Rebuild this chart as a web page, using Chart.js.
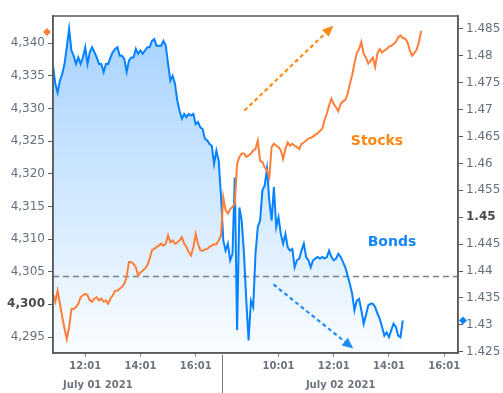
<!DOCTYPE html>
<html><head><meta charset="utf-8">
<script src="https://cdn.jsdelivr.net/npm/chart.js@4.4.1/dist/chart.umd.min.js"></script>
<style>html,body{margin:0;padding:0;background:#fff}#wrap{width:503px;height:393px;position:relative}</style>
</head><body><div id="wrap"><canvas id="c" width="503" height="393"></canvas></div>
<script>
// ---------- data ----------
const stepMinutes = 5;
const dayNames = ['July 01 2021', 'July 02 2021'];
const dayOpen  = ['08:01', '08:01'];   // session open (date label is centred on the session)
const dayFirst = ['10:51', '08:01'];   // first plotted time
const dayLast  = ['16:56', '16:31'];   // last slot on the axis
const tickDays  = [0, 0, 0, 1, 1, 1, 1];
const tickTimes = ['12:01', '14:01', '16:01', '10:01', '12:01', '14:01', '16:01'];
const leftTicks  = [4295, 4300, 4305, 4310, 4315, 4320, 4325, 4330, 4335, 4340];
const rightTicks = [1.425, 1.43, 1.435, 1.44, 1.445, 1.45, 1.455, 1.46, 1.465, 1.47, 1.475, 1.48, 1.485];
const leftBold = 4300;
const rightBold = 1.45;
const prevCloseYield = 1.439;

// Stocks (left axis), one value per 5-minute slot
const stocks = [
 4301.6, 4300.4, 4302.1, 4300.1, 4298.1, 4296.3, 4294.7, 4296.5, 4299.3, 4299.3,
 4299.6, 4300.1, 4301.1, 4301.4, 4301.6, 4301.4, 4300.6, 4300.4, 4300.9, 4301.1,
 4300.6, 4300.9, 4300.4, 4300.6, 4300.1, 4300.9, 4301.4, 4302.1, 4302.1, 4302.4,
 4302.7, 4303.2, 4304.2, 4306.5, 4306.5, 4306.2, 4305.7, 4304.4, 4304.9, 4305.2,
 4305.5, 4306.0, 4307.0, 4308.3, 4308.5, 4308.8, 4309.0, 4309.3, 4309.0, 4309.3,
 4310.6, 4309.5, 4309.8, 4309.3, 4309.5, 4309.8, 4310.3, 4309.3, 4308.8, 4308.0,
 4307.5, 4308.8, 4310.8, 4309.3, 4308.3, 4308.2, 4308.4, 4308.5, 4308.8, 4309.0,
 4309.2, 4309.2, 4309.8, 4310.6, 4316.4, 4314.4, 4313.9, 4314.6, 4314.9, 4315.4,
 4321.5, 4322.6, 4323.1, 4323.1, 4322.6, 4322.8, 4323.1, 4323.6, 4323.8, 4325.1,
 4322.0, 4321.8, 4321.0, 4320.5, 4319.5, 4324.1, 4324.6, 4324.3, 4324.1, 4323.6,
 4322.3, 4323.8, 4324.8, 4324.3, 4324.6, 4324.3, 4324.1, 4323.8, 4324.6, 4324.8,
 4325.1, 4325.4, 4325.5, 4325.7, 4326.0, 4326.2, 4326.6, 4326.9,
 4328.2, 4329.2, 4330.5, 4331.5, 4330.7, 4330.2, 4329.6, 4330.7, 4331.1, 4331.3,
 4332.2, 4333.8, 4335.1, 4336.9, 4338.5, 4339.1, 4340.2, 4338.4, 4337.8, 4336.9,
 4337.3, 4337.8, 4336.4, 4338.5, 4339.1, 4338.6, 4338.9, 4339.1, 4339.5, 4339.6,
 4339.9, 4340.2, 4340.9, 4341.2, 4340.8, 4340.7, 4340.2, 4339.0, 4338.1, 4338.5,
 4339.0, 4340.2, 4341.9
];

// Bonds (right axis), one value per 5-minute slot
const bonds = [
 1.4782, 1.4748, 1.4732, 1.4754, 1.4766, 1.4785, 1.4816, 1.4850, 1.4810, 1.4800,
 1.4785, 1.4797, 1.4785, 1.4797, 1.4816, 1.4785, 1.4807, 1.4816, 1.4807, 1.4797,
 1.4785, 1.4785, 1.4770, 1.4785, 1.4785, 1.4797, 1.4807, 1.4813, 1.4816, 1.4800,
 1.4800, 1.4794, 1.4770, 1.4791, 1.4797, 1.4797, 1.4813, 1.4804, 1.4810, 1.4804,
 1.4810, 1.4816, 1.4816, 1.4828, 1.4831, 1.4819, 1.4819, 1.4819, 1.4828, 1.4819,
 1.4785, 1.4754, 1.4763, 1.4748, 1.4717, 1.4698, 1.4683, 1.4692, 1.4686, 1.4692,
 1.4689, 1.4692, 1.4673, 1.4677, 1.4667, 1.4664, 1.4646, 1.4643, 1.4636, 1.4633,
 1.4599, 1.4624, 1.4605, 1.4540, 1.4457, 1.4438, 1.4451, 1.4420, 1.4432, 1.4574,
 1.4290, 1.4518, 1.4494, 1.4432, 1.4345, 1.4271, 1.4345, 1.4333, 1.4432, 1.4482,
 1.4494, 1.4550, 1.4559, 1.4590, 1.4531, 1.4494, 1.4556, 1.4482, 1.4500, 1.4469,
 1.4451, 1.4469, 1.4444, 1.4438, 1.4441, 1.4407, 1.4420, 1.4423, 1.4438, 1.4451,
 1.4426, 1.4420, 1.4407, 1.4420, 1.4423, 1.4426, 1.4423, 1.4426,
 1.4423, 1.4426, 1.4438, 1.4426, 1.4420, 1.4423, 1.4432, 1.4426, 1.4417, 1.4407,
 1.4392, 1.4376, 1.4358, 1.4327, 1.4345, 1.4348, 1.4327, 1.4302, 1.4318, 1.4336,
 1.4339, 1.4339, 1.4333, 1.4321, 1.4311, 1.4296, 1.4280, 1.4286, 1.4277, 1.4290,
 1.4302, 1.4296, 1.4280, 1.4277, 1.4308
];

// annotations: [slot index, value]
const stocksLabel = {text: 'Stocks', at: [140.8, 4325.0]};
const bondsLabel  = {text: 'Bonds',  at: [147.3, 1.4454]};
const stocksArrow = {from: [83.2, 4329.7], to: [121.8, 4342.7]};
const bondsArrow  = {from: [95.8, 1.4375], to: [130.5, 1.4256]};

// ---------- build the time axis ----------
function toMin(s){ const p = s.split(':').map(Number); return p[0]*60 + p[1]; }
const slots = [];
dayNames.forEach((d, k) => {
  for (let m = toMin(dayFirst[k]); m <= toMin(dayLast[k]); m += stepMinutes) slots.push({day: k, m});
});
function slotIndex(day, hhmm){ return slots.findIndex(s => s.day === day && s.m === toMin(hhmm)); }
const tickIdx = tickTimes.map((t, k) => slotIndex(tickDays[k], t));

const FONT = "'DejaVu Sans', Verdana, sans-serif";
const ORANGE = '#ff7f3a';
const BLUE = '#0582ff';

const overlay = {
  id: 'overlay',
  beforeDatasetsDraw(chart){
    const {ctx, chartArea: a, scales} = chart;
    const y = scales.y1.getPixelForValue(prevCloseYield);
    ctx.save();
    ctx.strokeStyle = '#808080'; ctx.lineWidth = 1.5; ctx.setLineDash([6, 4]);
    ctx.beginPath(); ctx.moveTo(a.left, y); ctx.lineTo(a.right, y); ctx.stroke();
    ctx.restore();
  },
  afterDatasetsDraw(chart){
    const {ctx, chartArea: a, scales} = chart;
    const X = scales.x, YL = scales.y, YR = scales.y1;
    ctx.save();
    function arrow(p0, p1, color){
      const dx = p1[0]-p0[0], dy = p1[1]-p0[1], L = Math.hypot(dx, dy);
      const ux = dx/L, uy = dy/L, hl = 11, hw = 5;
      ctx.strokeStyle = color; ctx.fillStyle = color; ctx.lineWidth = 2.2;
      ctx.setLineDash([4, 3]);
      ctx.beginPath(); ctx.moveTo(p0[0], p0[1]); ctx.lineTo(p1[0]-ux*hl, p1[1]-uy*hl); ctx.stroke();
      ctx.setLineDash([]);
      ctx.beginPath();
      ctx.moveTo(p1[0], p1[1]);
      ctx.lineTo(p1[0]-ux*hl - uy*hw, p1[1]-uy*hl + ux*hw);
      ctx.lineTo(p1[0]-ux*hl + uy*hw, p1[1]-uy*hl - ux*hw);
      ctx.closePath(); ctx.fill();
    }
    arrow([X.getPixelForValue(stocksArrow.from[0]), YL.getPixelForValue(stocksArrow.from[1])],
          [X.getPixelForValue(stocksArrow.to[0]), YL.getPixelForValue(stocksArrow.to[1])], '#ff8a14');
    arrow([X.getPixelForValue(bondsArrow.from[0]), YR.getPixelForValue(bondsArrow.from[1])],
          [X.getPixelForValue(bondsArrow.to[0]), YR.getPixelForValue(bondsArrow.to[1])], '#1e8cf5');
    ctx.font = 'bold 14px ' + FONT; ctx.textAlign = 'center'; ctx.textBaseline = 'middle';
    ctx.fillStyle = '#ff8612';
    ctx.fillText(stocksLabel.text, X.getPixelForValue(stocksLabel.at[0]), YL.getPixelForValue(stocksLabel.at[1]));
    ctx.fillStyle = '#1485f7';
    ctx.fillText(bondsLabel.text, X.getPixelForValue(bondsLabel.at[0]), YR.getPixelForValue(bondsLabel.at[1]));
    // frame
    ctx.strokeStyle = '#5a5a5a'; ctx.lineWidth = 1.5;
    ctx.strokeRect(a.left, a.top, a.right - a.left, a.bottom - a.top);
    // last-value diamonds
    function diamond(x, y, color){
      ctx.fillStyle = color; ctx.beginPath();
      ctx.moveTo(x, y-4); ctx.lineTo(x+4, y); ctx.lineTo(x, y+4); ctx.lineTo(x-4, y); ctx.closePath(); ctx.fill();
    }
    diamond(a.left - 6, YL.getPixelForValue(stocks[stocks.length-1]) + 1, ORANGE);
    diamond(a.right + 5, YR.getPixelForValue(bonds[bonds.length-1]), BLUE);
    // day separator + date labels
    let lastIdx0 = -1; slots.forEach((s, i) => { if (s.day === 0) lastIdx0 = i; });
    const sx = Math.round(X.getPixelForValue(lastIdx0 + 0.5)) + 0.5;
    ctx.strokeStyle = '#7a7a7a'; ctx.lineWidth = 1;
    ctx.beginPath(); ctx.moveTo(sx, a.bottom + 2); ctx.lineTo(sx, 393); ctx.stroke();
    ctx.font = 'bold 10px ' + FONT; ctx.fillStyle = '#6c737d'; ctx.textAlign = 'center'; ctx.textBaseline = 'middle';
    dayNames.forEach((d, k) => {
      const first = slots.findIndex(s => s.day === k);
      let last = first; slots.forEach((s, i) => { if (s.day === k) last = i; });
      const openIdx = first + (toMin(dayOpen[k]) - toMin(dayFirst[k])) / stepMinutes;
      ctx.fillText(d, X.getPixelForValue((openIdx + last) / 2), 385);
    });
    ctx.restore();
  }
};

new Chart(document.getElementById('c'), {
  type: 'line',
  data: {
    datasets: [
      { label: 'Stocks', yAxisID: 'y', data: stocks.map((v, i) => ({x: i, y: v})),
        borderColor: ORANGE, borderWidth: 2, pointRadius: 0, tension: 0, fill: false },
      { label: 'Bonds', yAxisID: 'y1', data: bonds.map((v, i) => ({x: i, y: v})),
        borderColor: BLUE, borderWidth: 2, pointRadius: 0, tension: 0, fill: 'start',
        backgroundColor: (c) => {
          const ca = c.chart.chartArea; if (!ca) return 'rgba(0,128,255,0.2)';
          const g = c.chart.ctx.createLinearGradient(0, ca.top, 0, ca.bottom);
          g.addColorStop(0, 'rgba(0,128,255,0.36)');
          g.addColorStop(1, 'rgba(0,128,255,0.02)');
          return g;
        } }
    ]
  },
  options: {
    responsive: false, animation: false, devicePixelRatio: 1,
    layout: { padding: { top: 16, left: 0, right: 0, bottom: 0 } },
    plugins: { legend: { display: false }, tooltip: { enabled: false } },
    scales: {
      x: {
        type: 'linear', min: 0, max: slots.length - 1,
        afterBuildTicks: s => { s.ticks = tickIdx.map(v => ({value: v})); },
        afterFit: s => { s.height = 40; },
        grid: { drawOnChartArea: false, drawTicks: true, tickLength: 4, color: '#8a8a8a' },
        border: { display: true, color: '#5a5a5a', width: 1.5 },
        ticks: { autoSkip: false, maxRotation: 0, padding: 3, color: '#6c737d',
          font: { family: FONT, size: 10, weight: 'bold' },
          callback: (v, i) => tickTimes[i] }
      },
      y: {
        position: 'left', min: 4292.55, max: 4344.18,
        afterBuildTicks: s => { s.ticks = leftTicks.map(v => ({value: v})); },
        afterFit: s => { s.width = 53; },
        grid: { drawOnChartArea: false, drawTicks: true, tickLength: 5, color: '#5a5a5a' },
        border: { display: true, color: '#5a5a5a', width: 1.5 },
        ticks: { padding: 3,
          color: c => (c.tick && c.tick.value === leftBold) ? '#4a4a4a' : '#65707d',
          font: c => ({ family: FONT, size: 12, weight: (c.tick && c.tick.value === leftBold) ? 'bold' : 'normal' }),
          callback: v => Number(v).toLocaleString('en-US') }
      },
      y1: {
        position: 'right', min: 1.42476, max: 1.48741,
        afterBuildTicks: s => { s.ticks = rightTicks.map(v => ({value: v})); },
        afterFit: s => { s.width = 45; },
        grid: { drawOnChartArea: false, drawTicks: true, tickLength: 5, color: '#5a5a5a' },
        border: { display: true, color: '#5a5a5a', width: 1.5 },
        ticks: { padding: 3,
          color: c => (c.tick && Math.abs(c.tick.value - rightBold) < 1e-9) ? '#4a4a4a' : '#65707d',
          font: c => ({ family: FONT, size: 12, weight: (c.tick && Math.abs(c.tick.value - rightBold) < 1e-9) ? 'bold' : 'normal' }),
          callback: v => String(v) }
      }
    }
  },
  plugins: [overlay]
});
</script>
</body></html>
